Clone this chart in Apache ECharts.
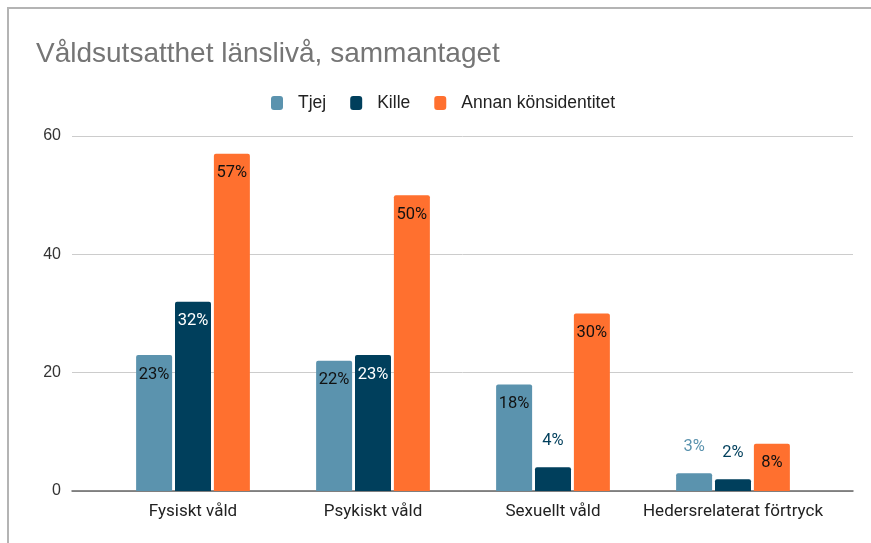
<!DOCTYPE html>
<html lang="sv">
<head>
<meta charset="UTF-8">
<title>Våldsutsatthet</title>
<script src="https://cdn.jsdelivr.net/npm/echarts@6/dist/echarts.min.js"></script>
<style>
    html, body { margin: 0; padding: 0; background: #fff; overflow: hidden; }
    #chart { position: absolute; left: 0; top: 0; width: 871px; height: 543px; }
    #frame { position: absolute; left: 7px; top: 7px; width: 900px; height: 600px;
             border-top: 2px solid #b4b4b4; border-left: 2px solid #b4b4b4; pointer-events: none; }
</style>
</head>
<body>
<div id="chart"></div>
<div id="frame"></div>
<script>
    // data
    var categories = ['Fysiskt våld', 'Psykiskt våld', 'Sexuellt våld', 'Hedersrelaterat förtryck'];
    var tjej = [23, 22, 18, 3];
    var kille = [32, 23, 4, 2];
    var annan = [57, 50, 30, 8];
    var yTicks = [0, 20, 40, 60];

    var colors = ['#5b93ae', '#003f5c', '#ff702f'];
    var insideText = ['#111', '#fff', '#111'];

    // small bars get the label above the bar, in the bar colour
    function buildData(values, idx) {
        return values.map(function (v) {
            if (v < 5) {
                return { value: v, label: { position: 'top', distance: 18, color: colors[idx] } };
            }
            return { value: v, label: { position: 'insideTop', distance: 11, color: insideText[idx] } };
        });
    }

    function barSeries(name, values, idx) {
        return {
            name: name,
            type: 'bar',
            xAxisIndex: 1,
            yAxisIndex: 1,
            barWidth: 36,
            barGap: '8%',
            itemStyle: { color: colors[idx], borderRadius: [2, 2, 0, 0] },
            label: { show: true, formatter: '{c}%', fontSize: 16.5, fontFamily: 'Roboto, Arial, sans-serif' },
            data: buildData(values, idx)
        };
    }

    var myChart = echarts.init(document.getElementById('chart'));
    var option = {
        animation: false,
        title: {
            text: 'Våldsutsatthet länslivå, sammantaget',
            left: 31,
            top: 35,
            textStyle: { fontSize: 28, fontWeight: 'normal', color: '#757575', fontFamily: 'Liberation Sans, Arial, sans-serif' }
        },
        legend: {
            top: 89,
            left: 266,
            itemWidth: 12,
            itemHeight: 14,
            itemGap: 24,
            icon: 'roundRect',
            textStyle: { fontSize: 17.5, color: '#222', padding: [0, 0, 0, 10], fontFamily: 'Liberation Sans, Arial, sans-serif' },
            data: ['Tjej', 'Kille', 'Annan könsidentitet']
        },
        grid: [
            { left: 72, right: 18, top: 136, bottom: 52 },
            { left: 103, right: 48, top: 136, bottom: 52 }
        ],
        xAxis: [
            {
                gridIndex: 0, type: 'category', data: [''],
                axisLine: { lineStyle: { color: '#666', width: 1.5 } },
                axisTick: { show: false }, axisLabel: { show: false }
            },
            {
                gridIndex: 1, type: 'category', data: categories,
                axisLine: { show: false }, axisTick: { show: false },
                axisLabel: { interval: 0, fontSize: 17, color: '#222', margin: 12, fontFamily: 'Roboto, Arial, sans-serif' }
            }
        ],
        yAxis: [
            {
                gridIndex: 0, type: 'value', min: yTicks[0], max: yTicks[yTicks.length - 1], interval: 20,
                axisLine: { show: false }, axisTick: { show: false },
                axisLabel: { fontSize: 16, color: '#333', margin: 11, fontFamily: 'Liberation Sans, Arial, sans-serif' },
                splitLine: { lineStyle: { color: '#cccccc' } }
            },
            {
                gridIndex: 1, type: 'value', min: yTicks[0], max: yTicks[yTicks.length - 1], interval: 20,
                show: false, splitLine: { show: false }
            }
        ],
        series: [
            barSeries('Tjej', tjej, 0),
            barSeries('Kille', kille, 1),
            barSeries('Annan könsidentitet', annan, 2)
        ]
    };
    myChart.setOption(option);
</script>
</body>
</html>
